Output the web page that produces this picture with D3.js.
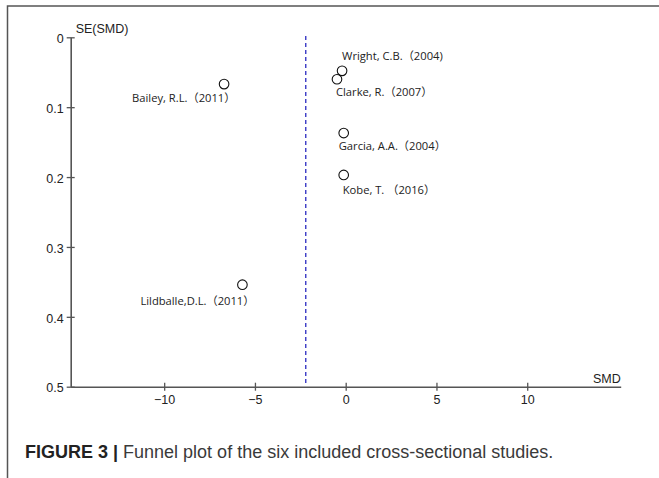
<!DOCTYPE html>
<html><head><meta charset="utf-8">
<script src="https://cdn.jsdelivr.net/npm/d3@7"></script>
<style>body{margin:0;background:#fff}svg{display:block}</style>
</head><body>
<svg id="c" width="659" height="478"></svg>
<script>
const studies = ["Wright, C.B.（2004)", "Clarke, R.（2007）", "Garcia, A.A.（2004）", "Kobe, T. （2016）", "Bailey, R.L.（2011）", "Lildballe,D.L.（2011）"];
const smd = [-0.2, -0.48, -0.11, -0.11, -6.7, -5.69];
const se = [0.048, 0.060, 0.137, 0.197, 0.067, 0.354];
const pooledSMD = -2.2;
const xTicks = [-10, -5, 0, 5, 10];
const yTicks = [0, 0.1, 0.2, 0.3, 0.4, 0.5];
// label offsets relative to point (layout only)
const labelDx = [0, -1, -5, -1, -92, -102];
const labelDy = [-11, 17, 17, 19, 18, 20];

const svg = d3.select("#c");
const x = d3.scaleLinear().domain([-15.15, 15.15]).range([70.7, 620.7]);
const y = d3.scaleLinear().domain([0, 0.5]).range([37.3, 386.7]);
const axisCol = "#555";
const axFont = "Liberation Sans, Arial, sans-serif";

// frame
svg.append("path").attr("d", "M7.5,478 V6 H659").attr("fill", "none").attr("stroke", "#555").attr("stroke-width", 1.5);

// y axis
const gy = svg.append("g").attr("transform", `translate(${x.range()[0]},0)`)
  .call(d3.axisLeft(y).tickValues(yTicks).tickFormat(d => d3.format("")(d)).tickSize(4).tickSizeOuter(0));
gy.select(".domain").attr("stroke", axisCol).attr("stroke-width", 1.6);
gy.selectAll(".tick line").attr("stroke", axisCol).attr("stroke-width", 1.3).attr("x1", 4).attr("x2", -4);
gy.selectAll(".tick text").attr("x", -7).attr("dy", "0.42em").attr("font-family", axFont).attr("font-size", 12.5).attr("fill", "#222");

// x axis
const gx = svg.append("g").attr("transform", `translate(0,${y.range()[1]})`)
  .call(d3.axisBottom(x).tickValues(xTicks).tickSize(4).tickSizeOuter(0));
gx.select(".domain").attr("stroke", axisCol).attr("stroke-width", 1.6);
gx.selectAll(".tick line").attr("stroke", axisCol).attr("stroke-width", 1.3).attr("y1", -4).attr("y2", 4);
gx.selectAll(".tick text").attr("y", 8).attr("font-family", axFont).attr("font-size", 12.5).attr("fill", "#222");

// axis titles
svg.append("text").attr("x", x.range()[0] + 5).attr("y", 33).text("SE(SMD)")
  .attr("font-family", axFont).attr("font-size", 12.5).attr("fill", "#222");
svg.append("text").attr("x", x.range()[1]).attr("y", y.range()[1] - 4).attr("text-anchor", "end").text("SMD")
  .attr("font-family", axFont).attr("font-size", 12.5).attr("fill", "#222");

// pooled dashed line
svg.append("line").attr("x1", x(pooledSMD)).attr("x2", x(pooledSMD)).attr("y1", 36).attr("y2", 383)
  .attr("stroke", "#2a2ac0").attr("stroke-width", 1.3).attr("stroke-dasharray", "4,3");

// points
const data = studies.map((s, i) => ({s, x: smd[i], y: se[i], dx: labelDx[i], dy: labelDy[i]}));
svg.selectAll("circle.pt").data(data).join("circle").attr("class", "pt")
  .attr("cx", d => x(d.x)).attr("cy", d => y(d.y)).attr("r", 4.8)
  .attr("fill", "none").attr("stroke", "#111").attr("stroke-width", 1.1);
svg.selectAll("text.lbl").data(data).join("text").attr("class", "lbl")
  .attr("x", d => x(d.x) + d.dx).attr("y", d => y(d.y) + d.dy).text(d => d.s)
  .attr("font-family", "Open Sans, Noto Sans, Noto Sans CJK SC, sans-serif").attr("font-size", 11.2).attr("fill", "#222");

// caption
const cap = svg.append("text").attr("x", 25).attr("y", 458)
  .attr("font-family", axFont).attr("font-size", 18).attr("fill", "#3a3a3a");
cap.append("tspan").attr("font-weight", "bold").attr("fill", "#222").text("FIGURE 3 | ");
cap.append("tspan").text("Funnel plot of the six included cross-sectional studies.");
</script>
</body></html>
